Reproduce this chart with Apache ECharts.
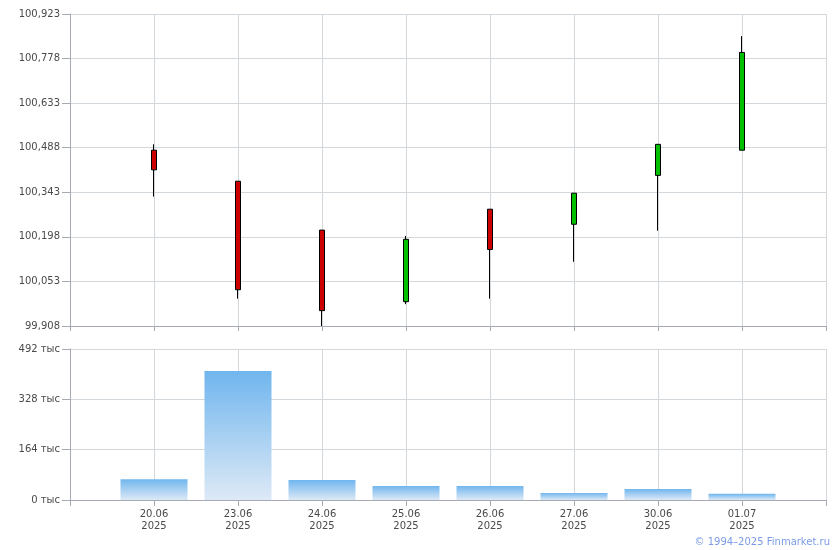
<!DOCTYPE html>
<html>
<head>
<meta charset="utf-8">
<script src="https://cdn.jsdelivr.net/npm/echarts@6/dist/echarts.min.js"></script>
<style>html,body{margin:0;padding:0;background:#fff;}#c{width:840px;height:550px;}</style>
</head>
<body>
<div id="c"></div>
<script>
var dates = ['20.06', '23.06', '24.06', '25.06', '26.06', '27.06', '30.06', '01.07'];
var year = '2025';
var opens  = [100.480, 100.379, 100.220,  99.987, 100.288, 100.239, 100.398, 100.480];
var closes = [100.416, 100.026,  99.958, 100.190, 100.157, 100.340, 100.499, 100.798];
var lows   = [100.329,  99.997,  99.908,  99.979,  99.997, 100.117, 100.218, 100.480];
var highs  = [100.499, 100.379, 100.220, 100.201, 100.288, 100.340, 100.499, 100.851];
var volumes = [68000, 420000, 65000, 46000, 46000, 23000, 36000, 20000];
var priceTicks = { min: 99.908, max: 100.923, interval: 0.145 };
var volumeTicks = { min: 0, max: 492000, interval: 164000 };

var cats = [''].concat(dates.map(function (d) { return d + '\n' + year; })).concat(['']);
var candleData = ['-'];
for (var i = 0; i < dates.length; i++) candleData.push([opens[i], closes[i], lows[i], highs[i]]);
candleData.push('-');
var volData = ['-'].concat(volumes).concat(['-']);

var axisCol = '#a6aab2', gridCol = '#d3d8dc', txtCol = '#4a4a4a';
var font = 'DejaVu Sans, Verdana, sans-serif';

var chart = echarts.init(document.getElementById('c'));
chart.setOption({
  animation: false,
  backgroundColor: '#fff',
  grid: [
    { left: 70, right: 14, top: 14, height: 312 },
    { left: 70, right: 14, top: 349, height: 151 }
  ],
  xAxis: [
    { type: 'category', gridIndex: 0, data: cats, boundaryGap: false,
      axisLine: { lineStyle: { color: axisCol } },
      axisTick: { show: true, length: 5, lineStyle: { color: axisCol }, interval: 0 },
      axisLabel: { show: false },
      splitLine: { show: true, interval: 0, lineStyle: { color: gridCol } } },
    { type: 'category', gridIndex: 1, data: cats, boundaryGap: false,
      axisLine: { lineStyle: { color: axisCol } },
      axisTick: { show: true, length: 6, lineStyle: { color: axisCol }, interval: 0 },
      axisLabel: { show: true, interval: 0, color: txtCol, fontFamily: font, fontSize: 10, lineHeight: 12, margin: 8 },
      splitLine: { show: true, interval: 0, lineStyle: { color: gridCol } } }
  ],
  yAxis: [
    { type: 'value', gridIndex: 0, min: priceTicks.min, max: priceTicks.max, interval: priceTicks.interval,
      axisLine: { show: true, lineStyle: { color: axisCol } },
      axisTick: { show: true, length: 8, lineStyle: { color: axisCol } },
      axisLabel: { color: txtCol, fontFamily: font, fontSize: 10, margin: 10,
        formatter: function (v) { return v.toFixed(3).replace('.', ','); } },
      splitLine: { show: true, lineStyle: { color: gridCol } } },
    { type: 'value', gridIndex: 1, min: volumeTicks.min, max: volumeTicks.max, interval: volumeTicks.interval,
      axisLine: { show: true, lineStyle: { color: axisCol } },
      axisTick: { show: true, length: 8, lineStyle: { color: axisCol } },
      axisLabel: { color: txtCol, fontFamily: font, fontSize: 10, margin: 10,
        formatter: function (v) { return Math.round(v / 1000) + ' тыс'; } },
      splitLine: { show: true, lineStyle: { color: gridCol } } }
  ],
  series: [
    { type: 'candlestick', xAxisIndex: 0, yAxisIndex: 0, data: candleData, barWidth: 5,
      itemStyle: { color: '#00c000', color0: '#cc0000', borderColor: '#000', borderColor0: '#000', borderWidth: 1 } },
    { type: 'bar', xAxisIndex: 1, yAxisIndex: 1, data: volData, barWidth: 67,
      itemStyle: { color: new echarts.graphic.LinearGradient(0, 0, 0, 1, [
        { offset: 0, color: '#70b6ee' }, { offset: 1, color: '#dde9f6' }]) } }
  ],
  graphic: [
    { type: 'text', right: 10, top: 537,
      style: { text: '© 1994–2025 Finmarket.ru', fill: '#7b9be6', font: '10px DejaVu Sans, Verdana, sans-serif' } }
  ]
});
</script>
</body>
</html>
